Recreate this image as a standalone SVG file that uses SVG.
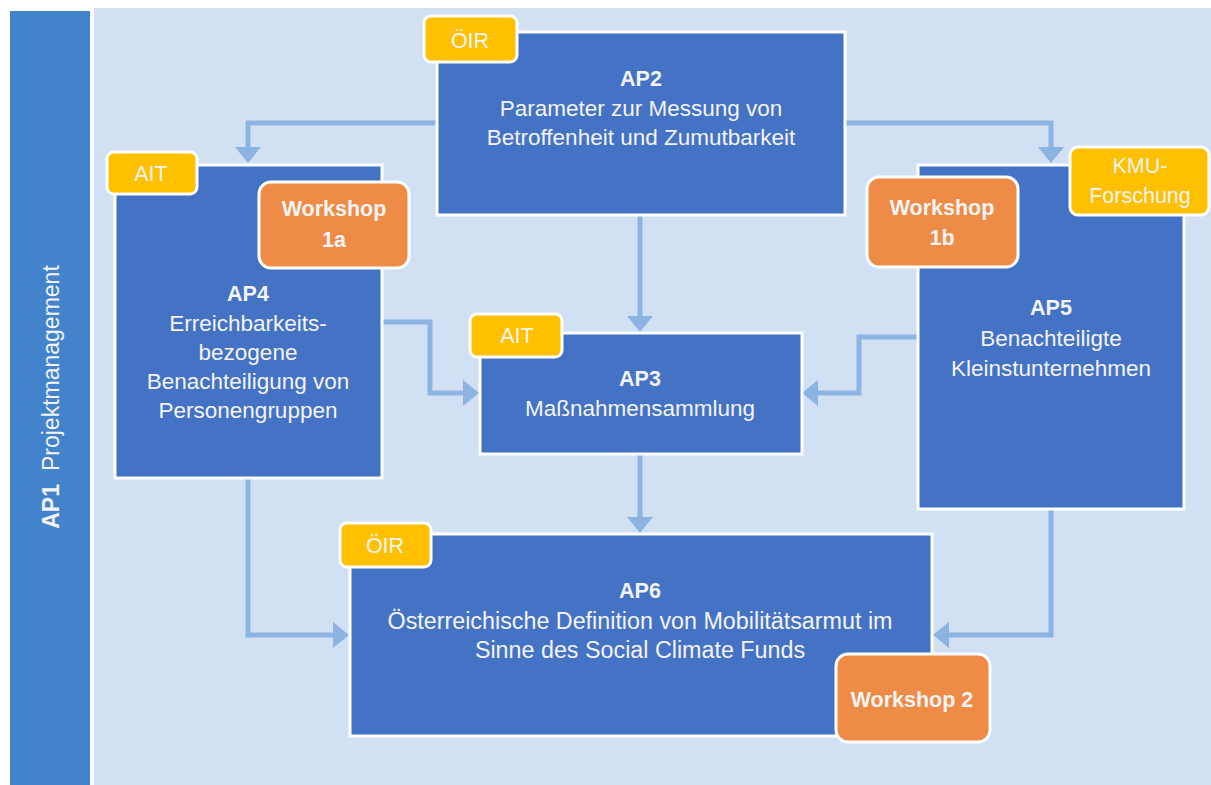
<svg xmlns="http://www.w3.org/2000/svg" width="1211" height="785" viewBox="0 0 1211 785">
<defs>
<style>
.box{fill:#4472C4;stroke:#FFFFFF;stroke-width:3}
.tag{fill:#FFC000;stroke:#FFFFFF;stroke-width:3}
.ws{fill:#EE8B46;stroke:#FFFFFF;stroke-width:3}
.conn{fill:none;stroke:#8DB3E2;stroke-width:5;marker-end:url(#ah)}
.t{font-family:"Liberation Sans",Arial,sans-serif;fill:#F4F4F4;text-anchor:middle}
.body{font-size:22.5px}
.hd{font-size:21.5px;font-weight:bold}
.tg{font-size:21.5px}
.wt{font-size:21.5px;font-weight:bold}
</style>
<marker id="ah" markerUnits="userSpaceOnUse" markerWidth="17" markerHeight="27" refX="0" refY="13" orient="auto">
<path d="M0,0 L16,13 L0,26 Z" fill="#8DB3E2"/>
</marker>
</defs>
<rect x="0" y="0" width="1211" height="785" fill="#FFFFFF"/>
<rect x="94" y="8" width="1117" height="777" fill="#D1E0F2"/>
<g id="ap1">
<rect x="10" y="11" width="80" height="774" fill="#4383CC"/>
<text class="t" transform="translate(59,397) rotate(-90)" style="font-size:23px"><tspan font-weight="bold">AP1</tspan><tspan dx="13">Projektmanagement</tspan></text>
</g>
<g id="connectors">
<path class="conn" d="M437,123 H248 V147"/>
<path class="conn" d="M845,123 H1051 V147"/>
<path class="conn" d="M640,215 V316"/>
<path class="conn" d="M382,322 H430 V393 H463"/>
<path class="conn" d="M918,337 H859 V393 H818"/>
<path class="conn" d="M640,454 V517"/>
<path class="conn" d="M248,478 V635 H333"/>
<path class="conn" d="M1051,509 V635 H949"/>
</g>
<g id="ap2">
<rect class="box" x="437" y="32" width="408" height="183"/>
<rect class="tag" x="424" y="16" width="93" height="46" rx="7"/>
<text class="t tg" x="470" y="48">ÖIR</text>
<text class="t hd" x="641" y="86">AP2</text>
<text class="t body" x="641" y="116">Parameter zur Messung von</text>
<text class="t body" x="641" y="145">Betroffenheit und Zumutbarkeit</text>
</g>
<g id="ap4">
<rect class="box" x="115" y="165" width="267" height="313"/>
<rect class="tag" x="107" y="152" width="90" height="42" rx="7"/>
<text class="t tg" x="151" y="181">AIT</text>
<rect class="ws" x="259" y="182" width="150" height="86" rx="12"/>
<text class="t wt" x="334" y="216">Workshop</text>
<text class="t wt" x="334" y="247">1a</text>
<text class="t hd" x="248" y="301">AP4</text>
<text class="t body" x="248" y="331">Erreichbarkeits-</text>
<text class="t body" x="248" y="360">bezogene</text>
<text class="t body" x="248" y="389">Benachteiligung von</text>
<text class="t body" x="248" y="418">Personengruppen</text>
</g>
<g id="ap5">
<rect class="box" x="918" y="165" width="266" height="344"/>
<rect class="ws" x="867" y="177" width="151" height="90" rx="12"/>
<text class="t wt" x="942" y="215">Workshop</text>
<text class="t wt" x="942" y="245">1b</text>
<rect class="tag" x="1070" y="147" width="139" height="68" rx="8"/>
<text class="t tg" x="1140" y="173">KMU-</text>
<text class="t tg" x="1140" y="203">Forschung</text>
<text class="t hd" x="1051" y="315">AP5</text>
<text class="t body" x="1051" y="346">Benachteiligte</text>
<text class="t body" x="1051" y="376">Kleinstunternehmen</text>
</g>
<g id="ap3">
<rect class="box" x="480" y="333" width="322" height="121"/>
<rect class="tag" x="470" y="314" width="92" height="43" rx="7"/>
<text class="t tg" x="517" y="343">AIT</text>
<text class="t hd" x="640" y="386">AP3</text>
<text class="t body" x="640" y="416">Maßnahmensammlung</text>
</g>
<g id="ap6">
<rect class="box" x="350" y="534" width="582" height="202"/>
<rect class="tag" x="340" y="523" width="91" height="44" rx="7"/>
<text class="t tg" x="385" y="553">ÖIR</text>
<text class="t hd" x="640" y="598">AP6</text>
<text class="t body" x="640" y="629" style="font-size:23.3px">Österreichische Definition von Mobilitätsarmut im</text>
<text class="t body" x="640" y="658" style="font-size:23.3px">Sinne des Social Climate Funds</text>
<rect class="ws" x="836" y="654" width="154" height="88" rx="12"/>
<text class="t wt" x="912" y="707">Workshop 2</text>
</g>
</svg>
